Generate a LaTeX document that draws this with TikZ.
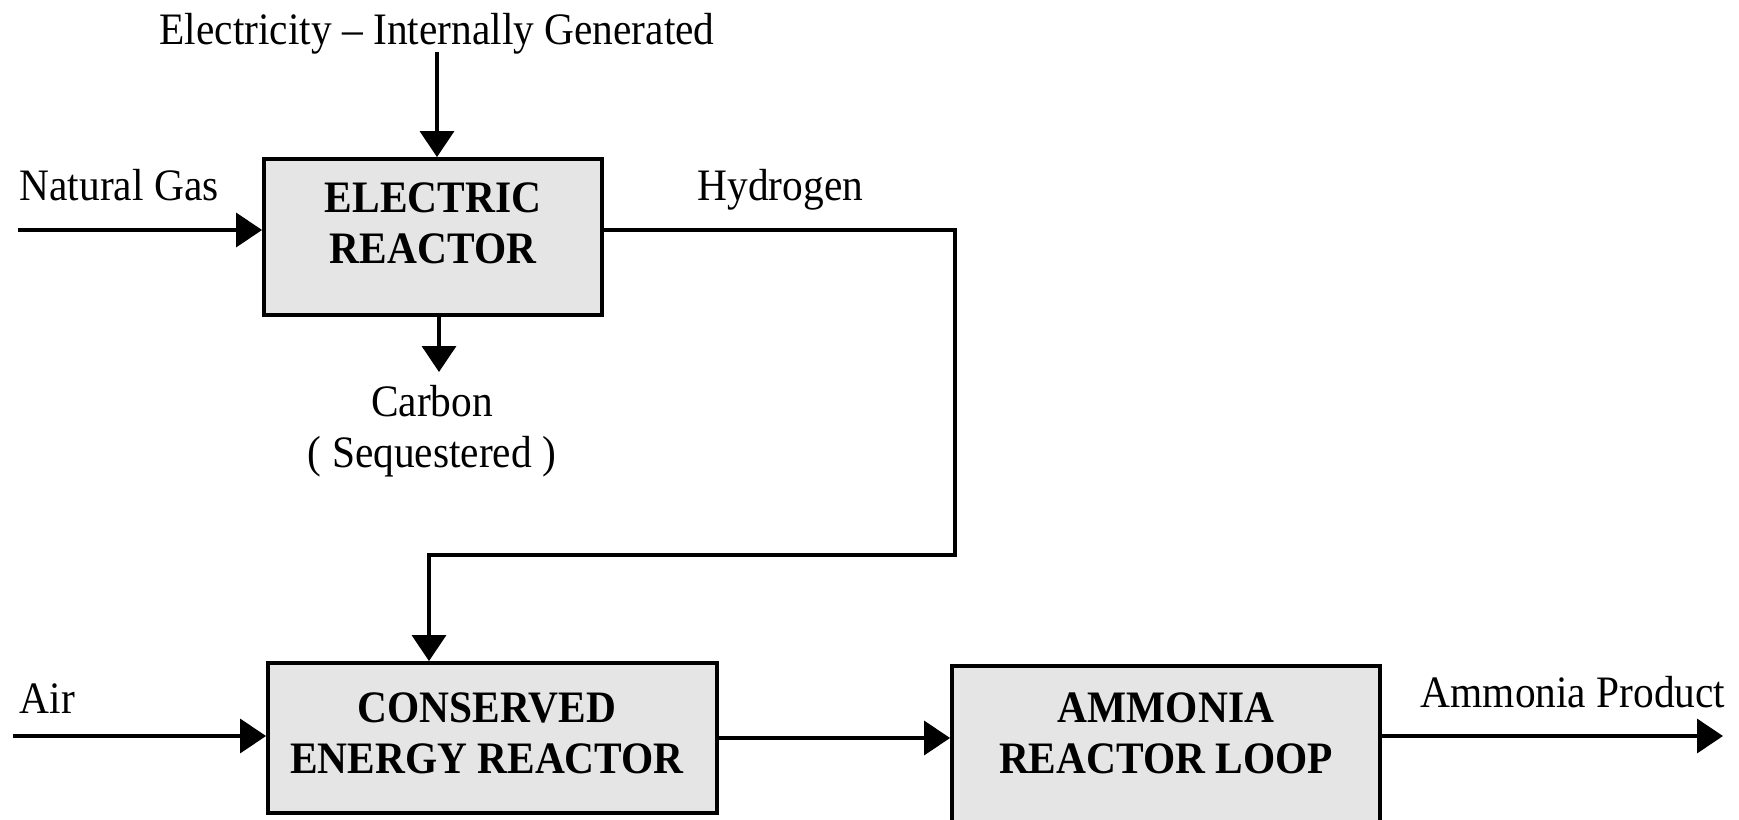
\documentclass[tikz,border=0pt]{standalone}
\usepackage{fontspec}
\setmainfont{Liberation Serif}[FakeStretch=0.92]
\usetikzlibrary{arrows.meta,calc}
\newcommand{\flowfont}{\fontsize{12.8}{14.5}\selectfont}
\tikzset{
  unit/.style={draw, line width=1.1pt, fill=black!10, inner sep=0pt},
  unittxt/.style={font=\flowfont\bfseries, align=center, anchor=base, inner sep=0pt},
  lbl/.style={font=\flowfont, inner sep=0pt},
  stream/.style={-{Triangle[length=2.6mm, width=3.4mm]}, line width=1pt},
}
\begin{document}
\begin{tikzpicture}[x=0.1mm, y=-0.1mm]
\useasboundingbox (0,0) rectangle (1739,819);
\node[unit, minimum width=33.8mm, minimum height=15.6mm] (er) at (433,237) {};
\node[unit, minimum width=44.9mm, minimum height=15mm] (cer) at (492.5,738) {};
\node[unit, minimum width=42.8mm, minimum height=17mm] (anl) at (1166,751) {};
\node[unittxt] (ertxt) at (433,263) {ELECTRIC\\REACTOR};
\node[unittxt] (certxt) at (487,773) {CONSERVED\\ENERGY REACTOR};
\node[unittxt] (anltxt) at (1166,773) {AMMONIA\\REACTOR LOOP};
\node[lbl, anchor=base] (elec) at (437,45) {Electricity -- Internally Generated};
\node[lbl, anchor=base west] (ng) at (19,200) {Natural Gas};
\node[lbl, anchor=base west] (h2) at (697,200) {Hydrogen};
\node[lbl, anchor=base, align=center] (carb) at (432,467) {Carbon\\( Sequestered )};
\node[lbl, anchor=base west] (air) at (19,713) {Air};
\node[lbl, anchor=base west] (nh3) at (1420,707) {Ammonia Product};
\coordinate (elin) at (437,52);
\coordinate (ngin) at (18,230);
\coordinate (cout) at (439,372);
\coordinate (h2a) at (955,555);
\coordinate (h2b) at (429,555);
\coordinate (airin) at (13,736);
\coordinate (prod) at (1723,736);
\draw[stream] (elin) -- (elin |- er.north);
\draw[stream] (ngin) -- (ngin -| er.west);
\draw[stream] (cout |- er.south) -- (cout);
\draw[stream] (er.east |- ngin) -| (h2a) -- (h2b) -- (h2b |- cer.north);
\draw[stream] (airin) -- (airin -| cer.west);
\draw[stream] (cer.east) -- (cer.east -| anl.west);
\draw[stream] (anl.east |- prod) -- (prod);
\end{tikzpicture}
\end{document}
